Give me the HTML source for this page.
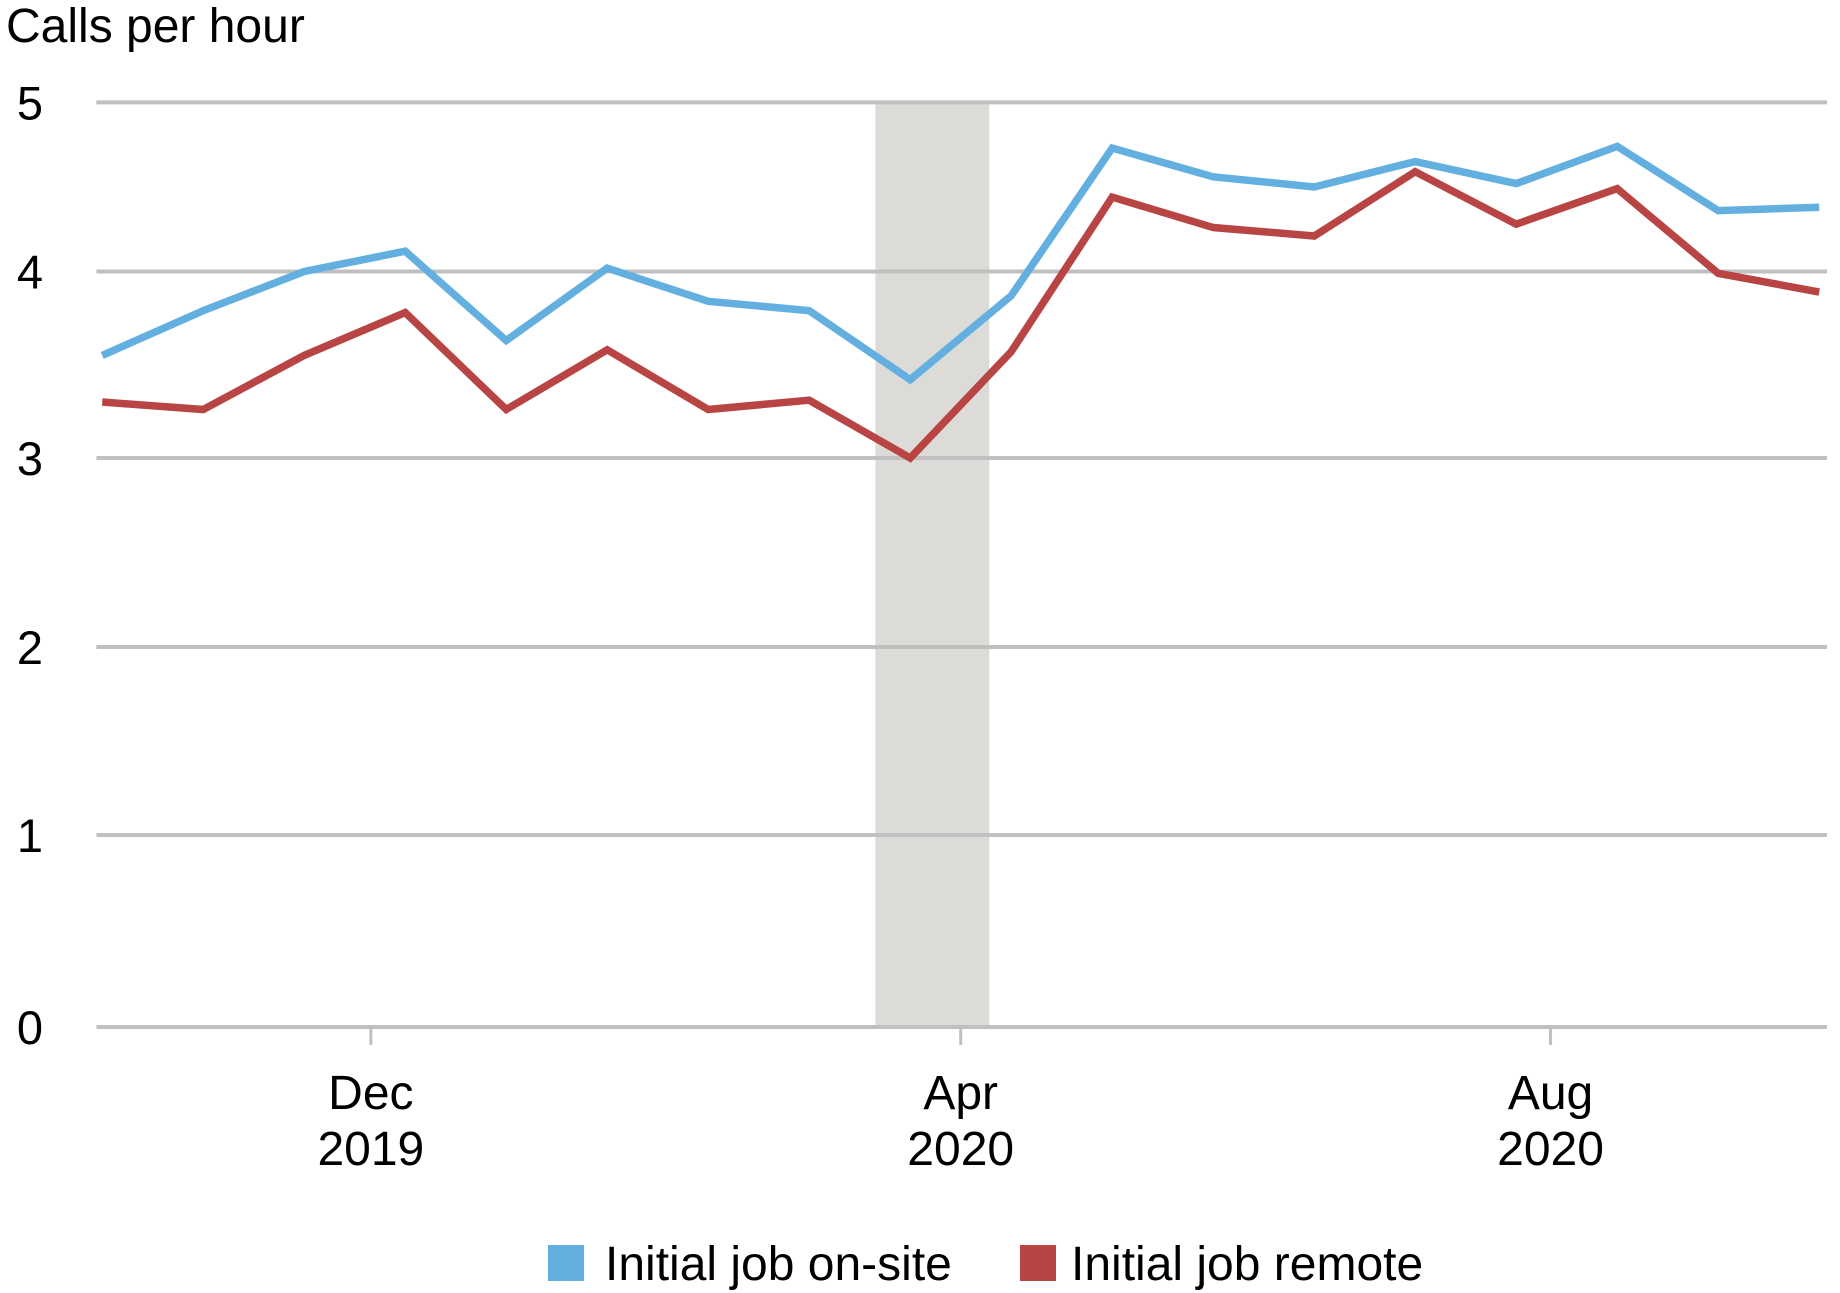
<!DOCTYPE html>
<html><head><meta charset="utf-8"><style>
html,body{margin:0;padding:0;background:#fff;}
svg{display:block;font-family:"Liberation Sans",Arial,sans-serif;}
</style></head><body>
<svg id="chart" width="1840" height="1293" viewBox="0 0 1840 1293">
<text x="6" y="42" font-size="48" fill="#000">Calls per hour</text>
<g id="grid"></g><g id="lines"></g>
<g>
<rect x="548" y="1245" width="36" height="36" fill="#62afe0"/>
<text x="605" y="1280" font-size="48">Initial job on-site</text>
<rect x="1020" y="1245" width="36" height="36" fill="#b94444"/>
<text x="1071" y="1280" font-size="48">Initial job remote</text>
</g>
</svg>
<script>
const yTicks=[0,1,2,3,4,5];
const yTickPix=[1027,835,647,458,271.5,102.4];
const onsite=[3.55,3.79,4.0,4.12,3.63,4.02,3.84,3.79,3.42,3.87,4.73,4.56,4.50,4.65,4.52,4.74,4.36,4.38];
const remote=[3.30,3.26,3.55,3.78,3.26,3.58,3.26,3.31,3.0,3.57,4.44,4.26,4.21,4.59,4.28,4.49,3.99,3.89];
const xLabels=[["Dec","2019"],["Apr","2020"],["Aug","2020"]];
const xLabelIdx=[2.66,8.5,14.34];
const shadeIdx=[7.655,8.783];
const NS="http://www.w3.org/2000/svg";
const x0=102.2,dx=101.0;
function X(i){return x0+i*dx;}
function Y(v){for(let k=0;k<yTicks.length-1;k++){if(v<=yTicks[k+1]||k==yTicks.length-2){const t=(v-yTicks[k])/(yTicks[k+1]-yTicks[k]);return yTickPix[k]+t*(yTickPix[k+1]-yTickPix[k]);}}}
function mk(tag,a,p){const e=document.createElementNS(NS,tag);for(const k in a)e.setAttribute(k,a[k]);p.appendChild(e);return e;}
const grid=document.getElementById('grid'),lines=document.getElementById('lines');
const sh=mk('rect',{x:X(shadeIdx[0]),y:Y(5),width:X(shadeIdx[1])-X(shadeIdx[0]),height:Y(0)-Y(5),fill:'#dcdbd7'},grid);


yTicks.forEach(v=>{
const l=mk('line',{x1:96.4,x2:1827,y1:Y(v),y2:Y(v),stroke:'#c0c0c0','stroke-width':4},grid);


const t=mk('text',{x:30,y:Y(v)+17,'font-size':47,'text-anchor':'middle'},grid);t.textContent=v;


});
xLabels.forEach((lb,j)=>{
const x=X(xLabelIdx[j]);
const tk=mk('line',{x1:x,x2:x,y1:Y(0),y2:Y(0)+18,stroke:'#c0c0c0','stroke-width':3},grid);


const t1=mk('text',{x:x,y:1109,'font-size':48,'text-anchor':'middle'},grid);t1.textContent=lb[0];


const t2=mk('text',{x:x,y:1165,'font-size':48,'text-anchor':'middle'},grid);t2.textContent=lb[1];


});
function line(arr,col,name){
const p=mk('polyline',{points:arr.map((v,i)=>X(i)+','+Y(v)).join(' '),fill:'none',stroke:col,'stroke-width':7.5,'stroke-linejoin':'miter'},lines);


}
line(remote,'#b94444','series-remote');
line(onsite,'#62afe0','series-onsite');
</script>
</body></html>
